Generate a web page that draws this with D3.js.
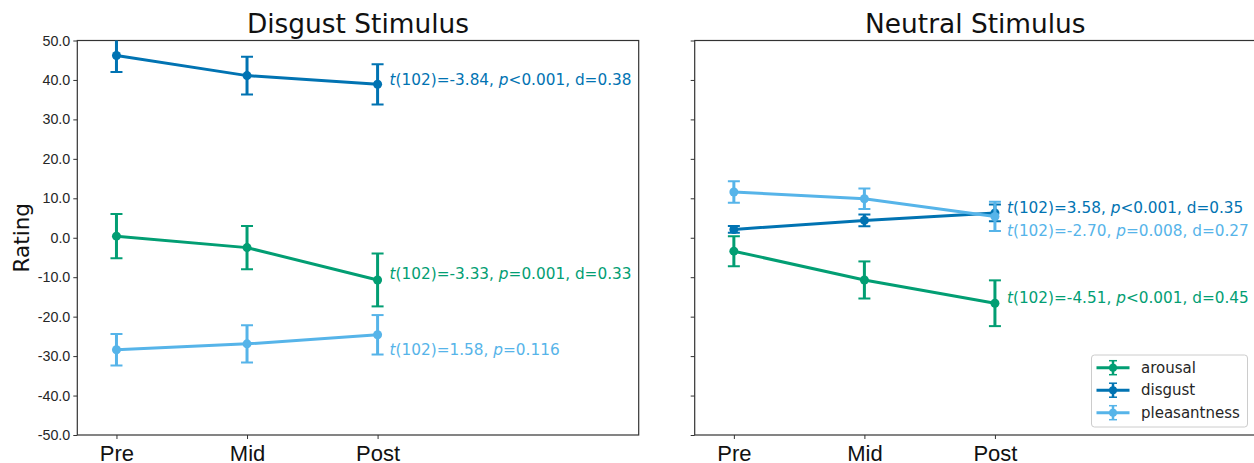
<!DOCTYPE html>
<html>
<head>
<meta charset="utf-8">
<style>
  body { margin: 0; background: white; }
  svg { font-family: 'DejaVu Sans', sans-serif; display: block; }
</style>
</head>
<body>
<svg width="1254" height="463"></svg>
<script src="https://d3js.org/d3.v7.min.js"></script>
<script>
// phases on the x axis
const phases = ["Pre", "Mid", "Post"];
const seriesNames = ["arousal", "disgust", "pleasantness"];
const colors = ["#029e73", "#0173b2", "#56b4e9"];
const yTicks = [50, 40, 30, 20, 10, 0, -10, -20, -30, -40, -50];

// disgust stimulus panel
const disgustMeans = [
  [0.4, -2.5, -10.7],
  [46.2, 41.1, 38.9],
  [-28.4, -26.9, -24.6]
];
const disgustErr = [
  [5.6, 5.5, 6.7],
  [4.2, 4.8, 5.1],
  [4.0, 4.7, 5.0]
];
const disgustLabels = [
  ["-3.33", "=0.001", "0.33"],
  ["-3.84", "<0.001", "0.38"],
  ["1.58", "=0.116", null]
];
const disgustLabelY = [-9.1, 40.0, -28.4];

// neutral stimulus panel
const neutralMeans = [
  [-3.4, -10.7, -16.6],
  [2.1, 4.4, 6.3],
  [11.6, 9.9, 5.4]
];
const neutralErr = [
  [3.8, 4.7, 5.8],
  [0.85, 1.5, 2.1],
  [2.7, 2.6, 3.7]
];
const neutralLabels = [
  ["-4.51", "<0.001", "0.45"],
  ["3.58", "<0.001", "0.35"],
  ["-2.70", "=0.008", "0.27"]
];
const neutralLabelY = [-15.2, 7.6, 1.8];

const svg = d3.select("svg");
const plotTop = 40.5, plotBottom = 435;
const y = d3.scaleLinear().domain([-50, 50]).range([plotBottom, plotTop]);

function panel(left, right, title, means, errs, labels, labelY, showYLabels) {
  const x = d3.scaleLinear().domain([-0.3, 4]).range([left, right]);
  const g = svg.append("g");

  // clip so error bars above 50 are cut like matplotlib
  const cid = "clip" + Math.round(left);
  svg.append("clipPath").attr("id", cid)
    .append("rect").attr("x", left).attr("y", plotTop).attr("width", right - left).attr("height", plotBottom - plotTop);

  // y axis
  const yAxis = d3.axisLeft(y).tickValues(yTicks).tickSize(4).tickPadding(3)
    .tickFormat(showYLabels ? (d => d.toFixed(1)) : "");
  const ya = g.append("g").attr("transform", `translate(${left},0)`).call(yAxis);
  ya.select(".domain").remove();
  ya.selectAll("line").attr("stroke", "#333").attr("stroke-width", 1);
  ya.selectAll("text").attr("fill", "#262626").style("font-size", "14.3px");

  // x axis
  const xAxis = d3.axisBottom(x).tickValues([0, 1, 2]).tickSize(4).tickPadding(6)
    .tickFormat(i => phases[i]);
  const xa = g.append("g").attr("transform", `translate(0,${plotBottom})`).call(xAxis);
  xa.select(".domain").remove();
  xa.selectAll("line").attr("stroke", "#333");
  xa.selectAll("text").attr("fill", "#111").style("font-size", "22px");

  // frame
  g.append("rect").attr("x", left).attr("y", plotTop).attr("width", right - left).attr("height", plotBottom - plotTop)
    .attr("fill", "none").attr("stroke", "#333").attr("stroke-width", 1.2);

  g.append("text").attr("x", (left + right) / 2).attr("y", 33)
    .attr("text-anchor", "middle").style("font-size", "26.4px").attr("fill", "#111").text(title);

  const plot = g.append("g").attr("clip-path", `url(#${cid})`);
  const line = d3.line().x((d, i) => x(i)).y(d => y(d));

  means.forEach((vals, s) => {
    const c = colors[s];
    const sg = plot.append("g");
    sg.append("path").datum(vals).attr("d", line)
      .attr("fill", "none").attr("stroke", c).attr("stroke-width", 3);
    vals.forEach((v, i) => {
      const e = errs[s][i];
      sg.append("line").attr("x1", x(i)).attr("x2", x(i)).attr("y1", y(v - e)).attr("y2", y(v + e))
        .attr("stroke", c).attr("stroke-width", 3);
      [v - e, v + e].forEach(cv => {
        sg.append("line").attr("x1", x(i) - 6).attr("x2", x(i) + 6).attr("y1", y(cv)).attr("y2", y(cv))
          .attr("stroke", c).attr("stroke-width", 2);
      });
      sg.append("circle").attr("cx", x(i)).attr("cy", y(v)).attr("r", 4.5).attr("fill", c);
    });
  });

  // stats annotations
  labels.forEach((lab, s) => {
    const t = g.append("text").attr("x", x(2) + 12).attr("y", y(labelY[s]))
      .attr("dy", "0.35em").attr("fill", colors[s]).style("font-size", "15.3px");
    t.append("tspan").style("font-style", "italic").text("t");
    t.append("tspan").text(`(102)=${lab[0]}, `);
    t.append("tspan").style("font-style", "italic").text("p");
    t.append("tspan").text(lab[1] + (lab[2] ? `, d=${lab[2]}` : ""));
  });
  return x;
}

panel(77.3, 638.7, "Disgust Stimulus", disgustMeans, disgustErr, disgustLabels, disgustLabelY, true);
panel(694.7, 1256, "Neutral Stimulus", neutralMeans, neutralErr, neutralLabels, neutralLabelY, false);

svg.append("text").attr("transform", `translate(29,${(plotTop + plotBottom) / 2}) rotate(-90)`)
  .attr("text-anchor", "middle").style("font-size", "21.5px").attr("fill", "#111").text("Rating");

// legend
const lg = svg.append("g").attr("transform", "translate(1091.5,355)");
lg.append("rect").attr("width", 156).attr("height", 72).attr("rx", 3)
  .attr("fill", "white").attr("fill-opacity", 0.8).attr("stroke", "#ccc");
seriesNames.forEach((name, i) => {
  const ly = 12.7 + i * 22.5;
  lg.append("line").attr("x1", 5).attr("x2", 38).attr("y1", ly).attr("y2", ly)
    .attr("stroke", colors[i]).attr("stroke-width", 3);
  lg.append("line").attr("x1", 21.5).attr("x2", 21.5).attr("y1", ly - 7).attr("y2", ly + 7)
    .attr("stroke", colors[i]).attr("stroke-width", 2.5);
  [ly - 7, ly + 7].forEach(cy => lg.append("line").attr("x1", 17.5).attr("x2", 25.5)
    .attr("y1", cy).attr("y2", cy).attr("stroke", colors[i]).attr("stroke-width", 1.5));
  lg.append("circle").attr("cx", 21.5).attr("cy", ly).attr("r", 4).attr("fill", colors[i]);
  lg.append("text").attr("x", 49.5).attr("y", ly).attr("dy", "0.35em")
    .style("font-size", "15px").attr("fill", "#262626").text(name);
});
</script>
</body>
</html>
